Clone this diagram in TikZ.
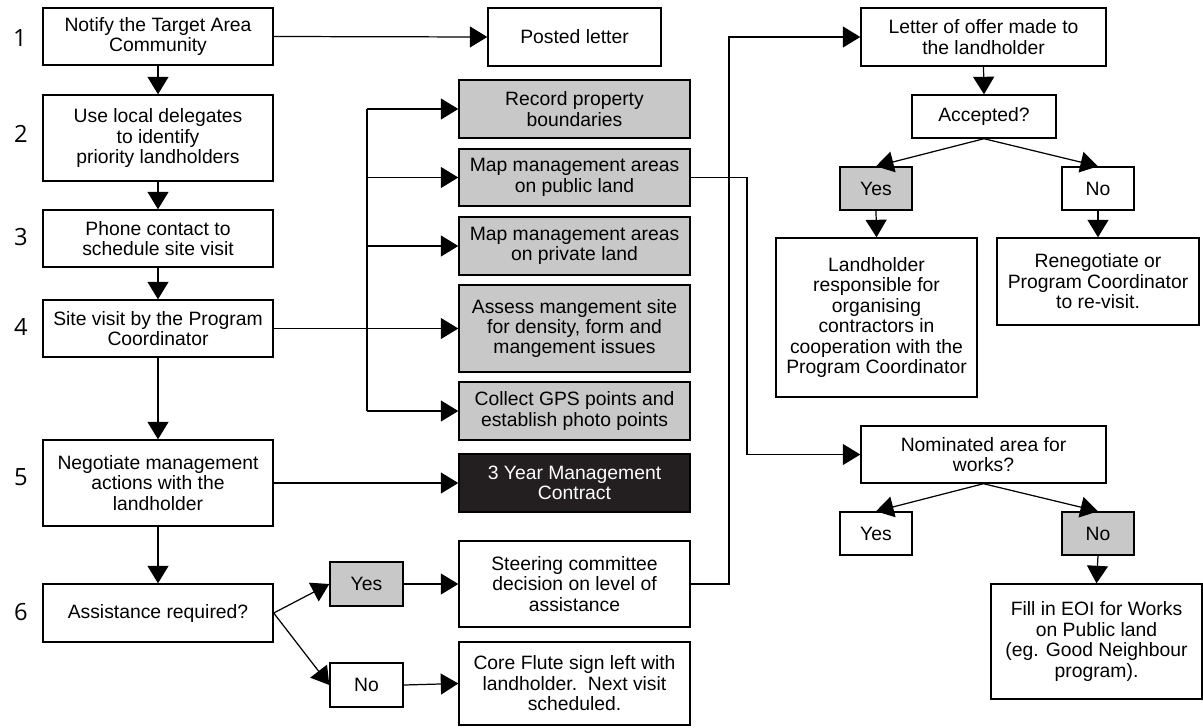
\documentclass[tikz,border=0pt]{standalone}
\usepackage{fontspec}
\setmainfont{Liberation Sans}
\newfontfamily\numfont{Open Sans}
\usetikzlibrary{arrows.meta}
\definecolor{boxgray}{RGB}{200,200,200}
\definecolor{boxblack}{RGB}{35,31,32}
\newcommand{\mybox}[7]{\node[#6, minimum width={(#4-#2)*0.02cm}, minimum height={(#5-#3)*0.02cm}] (#1) at ({(#2+#4)/2},{(#3+#5)/2}) {#7};}
\tikzset{
  box/.style={draw, line width=0.8pt, inner sep=0pt, align=center, font=\fontsize{11}{11.65}\selectfont},
  graybox/.style={box, fill=boxgray},
  darkbox/.style={box, fill=boxblack, text=white},
  arr/.style={line width=0.7pt, -{Triangle[length=0.35cm, width=0.42cm]}},
  ln/.style={line width=0.7pt},
  stepnum/.style={font=\numfont\fontsize{13.5}{14}\selectfont}
}
\begin{document}
\begin{tikzpicture}[x=0.02cm, y=-0.02cm]
\useasboundingbox (0,0) rectangle (1203,727);
% step numbers
\node[stepnum] (s1) at (20,38) {1};
\node[stepnum] (s2) at (21,134) {2};
\node[stepnum] (s3) at (21,237) {3};
\node[stepnum] (s4) at (21,327) {4};
\node[stepnum] (s5) at (21,477) {5};
\node[stepnum] (s6) at (21,612) {6};
% left column
\mybox{n1}{43}{8}{273}{65}{box}{Notify the Target Area\\Community}
\mybox{n2}{43}{95}{273}{181}{box}{Use local delegates\\to identify\\priority landholders}
\mybox{n3}{43}{210}{273}{267}{box}{Phone contact to\\schedule site visit}
\mybox{n4}{43}{300}{273}{357}{box}{Site visit by the Program\\Coordinator}
\mybox{n5}{43}{440}{273}{526}{box}{Negotiate management\\actions with the\\landholder}
\mybox{n6}{43}{584}{273}{642}{box}{Assistance required?}
% middle column
\mybox{posted}{488}{8}{661}{66}{box}{Posted letter}
\mybox{rec}{459}{80}{690}{138}{graybox}{Record property\\boundaries}
\mybox{mpub}{459}{149}{690}{206}{graybox}{Map management areas\\on public land}
\mybox{mpriv}{459}{217}{690}{275}{graybox}{Map management areas\\on private land}
\mybox{assess}{459}{285}{690}{372}{graybox}{Assess mangement site\\for density, form and\\mangement issues}
\mybox{gps}{459}{382}{690}{440}{graybox}{Collect GPS points and\\establish photo points}
\mybox{contract}{459}{454}{690}{512}{darkbox}{3 Year Management\\Contract}
\mybox{yes1}{330}{562}{403}{606}{graybox}{Yes}
\mybox{no1}{330}{663}{403}{707}{box}{No}
\mybox{steer}{459}{541}{690}{627}{box}{Steering committee\\decision on level of\\assistance}
\mybox{core}{459}{642}{690}{725}{box}{Core Flute sign left with\\landholder.\ \ Next visit\\scheduled.}
% right column
\mybox{letter}{861}{8}{1106}{66}{box}{Letter of offer made to\\the landholder}
\mybox{acc}{912}{95}{1056}{138}{box}{Accepted?}
\mybox{ya}{840}{167}{912}{210}{graybox}{Yes}
\mybox{na}{1062}{167}{1134}{210}{box}{No}
\mybox{land}{776}{238}{977}{397}{box}{Landholder\\responsible for\\organising\\contractors in\\cooperation with the\\Program Coordinator}
\mybox{reneg}{997}{238}{1199}{325}{box}{Renegotiate or\\Program Coordinator\\to re-visit.}
\mybox{nom}{861}{426}{1106}{483}{box}{Nominated area for\\works?}
\mybox{yb}{840}{512}{912}{555}{box}{Yes}
\mybox{nb}{1062}{512}{1134}{555}{graybox}{No}
\mybox{eoi}{991}{584}{1202}{699}{box}{Fill in EOI for Works\\on Public land\\(eg. Good Neighbour\\program).}
% helper coordinates
\coordinate (bus) at (367,0);
\coordinate (j1) at (729,0);
\coordinate (j2) at (747,0);
% left column connectors
\draw[arr] (n1.east) -- (posted.west);
\draw[arr] (n1.south) -- (n2.north);
\draw[arr] (n2.south) -- (n3.north);
\draw[arr] (n3.south) -- (n4.north);
\draw[arr] (n4.south) -- (n5.north);
\draw[arr] (n5.south) -- (n6.north);
% bus
\draw[ln] (n4.east) -- (n4.east -| bus);
\draw[ln] (bus |- rec.west) -- (bus |- gps.west);
\draw[arr] (bus |- rec.west) -- (rec.west);
\draw[arr] (bus |- mpub.west) -- (mpub.west);
\draw[arr] (bus |- mpriv.west) -- (mpriv.west);
\draw[arr] (bus |- assess.west) -- (assess.west);
\draw[arr] (bus |- gps.west) -- (gps.west);
\draw[arr] (n5.east) -- (contract.west);
% assistance
\draw[arr] (n6.east) -- (yes1.west);
\draw[arr] (n6.east) -- (no1.west);
\draw[arr] (yes1.east) -- (steer.west);
\draw[arr] (no1.east) -- (core.west);
% long routes
\draw[arr] (steer.east) -- (steer.east -| j1) -- (j1 |- letter.west) -- (letter.west);
\draw[arr] (mpub.east) -- (mpub.east -| j2) -- (j2 |- nom.west) -- (nom.west);
% right column
\draw[arr] (letter.south) -- (acc.north);
\draw[arr] (acc.south) -- (ya.north);
\draw[arr] (acc.south) -- (na.north);
\draw[arr] (ya.south) -- (land.north);
\draw[arr] (na.south) -- (reneg.north);
\draw[arr] (nom.south) -- (yb.north);
\draw[arr] (nom.south) -- (nb.north);
\draw[arr] (nb.south) -- (eoi.north);
\end{tikzpicture}
\end{document}
